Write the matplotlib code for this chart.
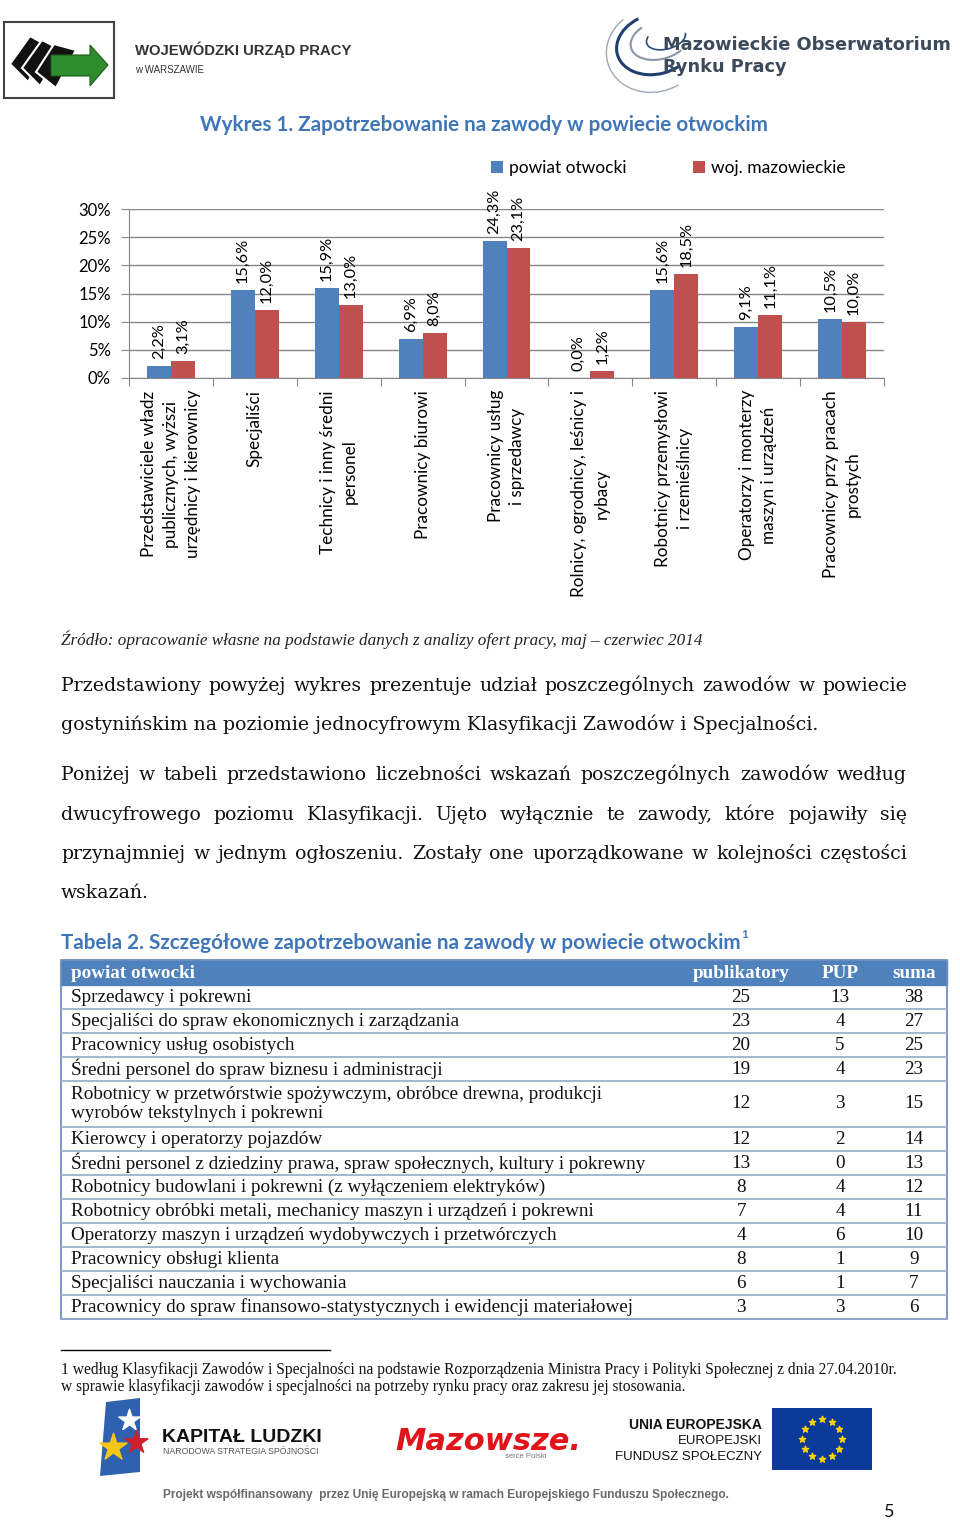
import matplotlib
matplotlib.use('Agg')
import matplotlib.pyplot as plt
from matplotlib.patches import Rectangle, Polygon, Arc
import numpy as np

# --- dane wykresu ---
kategorie = ['Przedstawiciele władz\npublicznych, wyższi\nurzędnicy i kierownicy',
             'Specjaliści',
             'Technicy i inny średni\npersonel',
             'Pracownicy biurowi',
             'Pracownicy usług\ni sprzedawcy',
             'Rolnicy, ogrodnicy, leśnicy i\nrybacy',
             'Robotnicy przemysłowi\ni rzemieślnicy',
             'Operatorzy i monterzy\nmaszyn i urządzeń',
             'Pracownicy przy pracach\nprostych']
powiat = [2.2, 15.6, 15.9, 6.9, 24.3, 0.0, 15.6, 9.1, 10.5]
woj = [3.1, 12.0, 13.0, 8.0, 23.1, 1.2, 18.5, 11.1, 10.0]
seria = ['powiat otwocki', 'woj. mazowieckie']
yticks = [0, 5, 10, 15, 20, 25, 30]

# --- tekst ---
tytul = 'Wykres 1. Zapotrzebowanie na zawody w powiecie otwockim'
zrodlo = 'Źródło: opracowanie własne na podstawie danych z analizy ofert pracy, maj – czerwiec 2014'
akapit1 = ['Przedstawiony powyżej wykres prezentuje udział poszczególnych zawodów w powiecie',
           'gostynińskim na poziomie jednocyfrowym Klasyfikacji Zawodów i Specjalności.']
akapit2 = ['Poniżej w tabeli przedstawiono liczebności wskazań poszczególnych zawodów według',
           'dwucyfrowego poziomu Klasyfikacji. Ujęto wyłącznie te zawody, które pojawiły się',
           'przynajmniej w jednym ogłoszeniu. Zostały one uporządkowane w kolejności częstości',
           'wskazań.']

# --- dane tabeli ---
tab_tytul = 'Tabela 2. Szczegółowe zapotrzebowanie na zawody w powiecie otwockim'
naglowki = ['powiat otwocki', 'publikatory', 'PUP', 'suma']
zawody = ['Sprzedawcy i pokrewni',
          'Specjaliści do spraw ekonomicznych i zarządzania',
          'Pracownicy usług osobistych',
          'Średni personel do spraw biznesu i administracji',
          'Robotnicy w przetwórstwie spożywczym, obróbce drewna, produkcji\nwyrobów tekstylnych i pokrewni',
          'Kierowcy i operatorzy pojazdów',
          'Średni personel z dziedziny prawa, spraw społecznych, kultury i pokrewny',
          'Robotnicy budowlani i pokrewni (z wyłączeniem elektryków)',
          'Robotnicy obróbki metali, mechanicy maszyn i urządzeń i pokrewni',
          'Operatorzy maszyn i urządzeń wydobywczych i przetwórczych',
          'Pracownicy obsługi klienta',
          'Specjaliści nauczania i wychowania',
          'Pracownicy do spraw finansowo-statystycznych i ewidencji materiałowej']
publikatory = [25, 23, 20, 19, 12, 12, 13, 8, 7, 4, 8, 6, 3]
pup = [13, 4, 5, 4, 3, 2, 0, 4, 4, 6, 1, 1, 3]
suma = [38, 27, 25, 23, 15, 14, 13, 12, 11, 10, 9, 7, 6]

przypis = ['1 według Klasyfikacji Zawodów i Specjalności na podstawie Rozporządzenia Ministra Pracy i Polityki Społecznej z dnia 27.04.2010r.',
           'w sprawie klasyfikacji zawodów i specjalności na potrzeby rynku pracy oraz zakresu jej stosowania.']

NIEB = '#4F81BD'
CZER = '#C0504D'
SANS = ['Lato', 'DejaVu Sans']
SERIF = ['Liberation Serif', 'DejaVu Serif']
SERIF2 = ['DejaVu Serif']

fig = plt.figure(figsize=(9.6, 15.2), dpi=100)
bg = fig.add_axes([0, 0, 1, 1])
bg.set_xlim(0, 960)
bg.set_ylim(1520, 0)
bg.axis('off')
R = fig.canvas.get_renderer()

# ---------- naglowek strony ----------
bg.add_patch(Rectangle((4, 22), 110, 76, fill=False, ec='#444444', lw=1.5))
karty = [[(10, 64), (30, 36), (48, 46), (28, 82)],
         [(22, 68), (42, 40), (62, 50), (40, 86)],
         [(36, 72), (54, 44), (76, 50), (56, 88)]]
for k in karty:
    bg.add_patch(Polygon(k, closed=True, fc='#111111', ec='white', lw=1.5))
bg.add_patch(Polygon([(51, 55), (90, 55), (90, 45), (108, 65), (90, 86), (90, 76), (51, 76)],
                     closed=True, fc='#2E8B2E', ec='#1d5e1d', lw=0.8))
bg.text(135, 50, 'WOJEWÓDZKI URZĄD PRACY', fontsize=10.7, fontweight='bold',
        color='#333333', family=['Liberation Sans'], va='center')
bg.text(135, 70, 'w WARSZAWIE', fontsize=7, color='#333333', family=['Liberation Sans'], va='center')

bg.add_patch(Arc((656, 44), 80, 60, angle=-15, theta1=60, theta2=250, color='#1F3F6F', lw=2.2))
bg.add_patch(Arc((660, 40), 60, 38, angle=-15, theta1=40, theta2=230, color='#8896A8', lw=1.5))
bg.add_patch(Arc((654, 50), 96, 84, angle=-15, theta1=70, theta2=240, color='#A0A8B4', lw=1))
bg.add_patch(Arc((666, 38), 40, 22, angle=-15, theta1=0, theta2=200, color='#2A4C7A', lw=1.2))
bg.text(663, 45, 'Mazowieckie Obserwatorium', fontsize=12.8, fontweight='bold',
        color='#3C4A5A', family=['DejaVu Sans'], va='center')
bg.text(663, 67, 'Rynku Pracy', fontsize=12.8, fontweight='bold',
        color='#3C4A5A', family=['DejaVu Sans'], va='center')

# ---------- tytul wykresu ----------
bg.text(484, 125, tytul, fontsize=14.9, fontweight='bold', color='#3F76B8',
        family=SANS, ha='center', va='center')

# ---------- wykres ----------
ax = fig.add_axes([129 / 960, 1 - 378 / 1520, 755 / 960, 169 / 1520])
x = np.arange(len(kategorie))
w = 0.285
b1 = ax.bar(x - w / 2, powiat, w, color=NIEB, label=seria[0], zorder=3)
b2 = ax.bar(x + w / 2, woj, w, color=CZER, label=seria[1], zorder=3)
ax.set_xlim(-0.5, len(kategorie) - 0.5)
ax.set_ylim(0, 30)
ax.set_yticks(yticks)
ax.set_yticklabels([f'{v}%' for v in yticks], family=SANS, fontsize=12)
ax.yaxis.grid(True, color='#868686', lw=1, zorder=0)
ax.set_xticks(np.arange(-0.5, len(kategorie), 1))
ax.set_xticklabels([])
for s in ['top', 'right']:
    ax.spines[s].set_visible(False)
for s in ['left', 'bottom']:
    ax.spines[s].set_color('#868686')
ax.tick_params(axis='y', length=6, color='#868686', pad=7)
ax.tick_params(axis='x', length=6, color='#868686')
ax.set_facecolor('none')

for xi, (a, b) in enumerate(zip(powiat, woj)):
    for dx, v in [(-w / 2, a), (w / 2, b)]:
        ax.annotate(f'{v:.1f}%'.replace('.', ','), xy=(xi + dx, v), xytext=(0, 7),
                    textcoords='offset pixels', rotation=90, ha='center', va='bottom',
                    fontsize=11.8, family=SANS)
    ax.annotate(kategorie[xi], xy=(xi, 0), xycoords=('data', 'axes fraction'),
                xytext=(0, -12), textcoords='offset pixels', rotation=90,
                ha='center', va='top', multialignment='center',
                fontsize=12.3, family=SANS, linespacing=1.45)

ax.legend(handles=[b1, b2], ncol=2, frameon=False, loc='center left',
          bbox_to_anchor=(491 / 960, 1 - 168 / 1520), bbox_transform=fig.transFigure,
          handlelength=0.7, handleheight=0.7, handletextpad=0.35, columnspacing=3.8,
          borderpad=0, borderaxespad=0, prop={'family': SANS, 'size': 12.5})

# ---------- zrodlo i tekst ----------
bg.text(61, 645, zrodlo, fontsize=12.3, style='italic', family=SERIF, color='#222222')


def linia(txt, x0, y, x1=None, **kw):
    if x1 is None:
        bg.text(x0, y, txt, **kw)
        return
    slowa = txt.split()
    obj = [bg.text(0, y, s, **kw) for s in slowa]
    szer = [o.get_window_extent(R).width for o in obj]
    odst = (x1 - x0 - sum(szer)) / (len(slowa) - 1)
    cx = x0
    for o, sz in zip(obj, szer):
        o.set_x(cx)
        cx += sz + odst


styl = dict(fontsize=13.6, family=SERIF2, color='#111111')
linia(akapit1[0], 61, 691, 907, **styl)
linia(akapit1[1], 61, 730, **styl)
for i, t in enumerate(akapit2):
    linia(t, 61, 780 + i * 39.5, 907 if i < len(akapit2) - 1 else None, **styl)

# ---------- tabela ----------
tt = bg.text(61, 943, tab_tytul, fontsize=14.9, fontweight='bold', color='#3F76B8',
             family=SANS, va='center')
kx = tt.get_window_extent(R).x1 + 1
bg.text(kx, 935, '1', fontsize=8.5, fontweight='bold', color='#3F76B8', family=SANS, va='center')

L, P = 61, 947
kol = [741, 840, 914]
FT = 13.8
bg.add_patch(Rectangle((L, 960), P - L, 25, fc=NIEB, ec=NIEB, lw=1))
bg.text(71, 973, naglowki[0], color='white', fontweight='bold', fontsize=FT,
        family=SERIF, va='center')
for cx, h in zip(kol, naglowki[1:]):
    bg.text(cx, 973, h, color='white', fontweight='bold', fontsize=FT,
            family=SERIF, va='center', ha='center')

y = 985
for nazwa, a, b, c in zip(zawody, publikatory, pup, suma):
    hh = 46 if '\n' in nazwa else 24
    yc = y + hh / 2
    bg.text(71, yc, nazwa, fontsize=FT, family=SERIF, va='center', linespacing=1.2,
            color='#111111')
    for cx, v in zip(kol, [a, b, c]):
        bg.text(cx, yc, str(v), fontsize=FT, family=SERIF, va='center', ha='center',
                color='#111111')
    y += hh
    if y < 1320:
        bg.plot([L, P], [y, y], color='#95A9C8', lw=1.2)
bg.add_patch(Rectangle((L, 960), P - L, y - 960, fill=False, ec='#6F8FC0', lw=1.3))

# ---------- przypis ----------
bg.plot([61, 330], [1350, 1350], color='black', lw=1)
bg.text(61, 1370, przypis[0], fontsize=11.2, family=SERIF, va='center', color='#111111')
bg.text(61, 1387, przypis[1], fontsize=11.2, family=SERIF, va='center', color='#111111')

# ---------- logotypy ----------
bg.add_patch(Polygon([(106, 1402), (140, 1398), (140, 1472), (100, 1476)], closed=True,
                     fc='#2F62AE', ec='none'))
bg.scatter([129], [1420], s=260, marker='*', color='white', zorder=5)
bg.scatter([136], [1442], s=300, marker='*', color='#D0202E', zorder=5)
bg.scatter([113], [1447], s=420, marker='*', color='#F5C518', zorder=6)
bg.text(162, 1437, 'KAPITAŁ LUDZKI', fontsize=14, fontweight='bold', family=['Liberation Sans'],
        va='center', color='#111111')
bg.text(163, 1452, 'NARODOWA STRATEGIA SPÓJNOŚCI', fontsize=6.3, family=['Liberation Sans'],
        va='center', color='#555555')

bg.text(395, 1441, 'Mazowsze.', fontsize=22, fontweight='bold', style='italic',
        family=['DejaVu Sans'], va='center', color='#E2141B')
bg.text(505, 1457, 'serce Polski', fontsize=5.5, family=['Liberation Sans'], va='center',
        color='#777777')

bg.text(762, 1425, 'UNIA EUROPEJSKA', fontsize=10, fontweight='bold', family=['Liberation Sans'],
        va='center', ha='right', color='#111111')
bg.text(762, 1441, 'EUROPEJSKI', fontsize=9.5, family=['Liberation Sans'],
        va='center', ha='right', color='#111111')
bg.text(762, 1457, 'FUNDUSZ SPOŁECZNY', fontsize=9.5, family=['Liberation Sans'],
        va='center', ha='right', color='#111111')
bg.add_patch(Rectangle((772, 1408), 100, 62, fc='#0B3A99', ec='none'))
kat = np.linspace(0, 2 * np.pi, 13)[:-1]
bg.scatter(822 + 20 * np.cos(kat), 1439 + 20 * np.sin(kat), s=22, marker='*',
           color='#FFD500', zorder=5)

bg.text(163, 1495, 'Projekt współfinansowany  przez Unię Europejską w ramach Europejskiego Funduszu Społecznego.',
        fontsize=8.6, fontweight='bold', family=['Liberation Sans'], va='center', color='#6A6A6A')
bg.text(889, 1512, '5', fontsize=13, family=SANS, va='center', ha='center', color='#111111')

fig.savefig('out.png', dpi=100, facecolor='white')
